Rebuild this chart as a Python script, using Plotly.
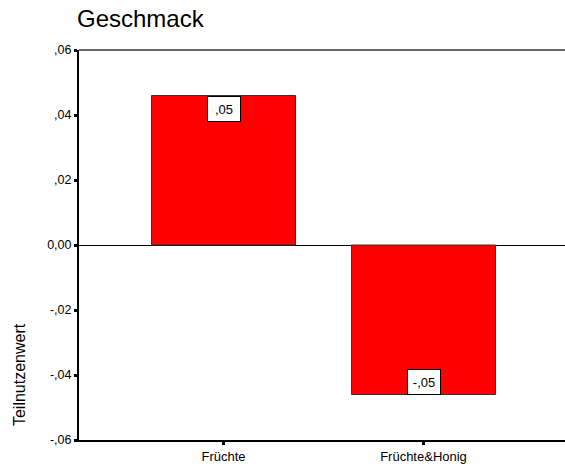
import plotly.graph_objects as go

categories = ["Früchte", "Früchte&Honig"]
values = [0.046, -0.046]
y_tickvals = [0.06, 0.04, 0.02, 0.0, -0.02, -0.04, -0.06]
y_ticktext = [",06", ",04", ",02", "0,00", "-,02", "-,04", "-,06"]
title_text = "Geschmack"
y_title = "Teilnutzenwert"


def de_label(v):
    s = f"{v:.2f}"
    if s.startswith("0."):
        s = "," + s[2:]
    elif s.startswith("-0."):
        s = "-," + s[3:]
    return s


FONT = "Liberation Sans, Arial, sans-serif"
W, H = 565, 470

fig = go.Figure()
fig.add_trace(go.Bar(
    x=categories, y=values, width=0.72,
    marker=dict(color="#ff0000", line=dict(color="#333333", width=1)),
    hoverinfo="skip",
))

for c, v in zip(categories, values):
    fig.add_annotation(
        x=c, y=v, xref="x", yref="y", text=de_label(v), showarrow=False,
        yanchor="top" if v >= 0 else "bottom", xanchor="center",
        bgcolor="white", bordercolor="black", borderwidth=1, borderpad=4,
        width=24, height=16,
        font=dict(family=FONT, size=13, color="black"),
    )

fig.add_annotation(
    text=y_title, xref="paper", yref="paper", x=-0.121, y=0.167,
    textangle=-90, showarrow=False, xanchor="center", yanchor="middle",
    font=dict(family=FONT, size=16, color="black"),
)

fig.add_shape(type="line", xref="paper", yref="paper", x0=0, x1=1, y0=1, y1=1,
              line=dict(color="#666666", width=2))

fig.update_layout(
    width=W, height=H,
    margin=dict(l=79, r=0, t=50, b=30),
    paper_bgcolor="white", plot_bgcolor="white",
    showlegend=False,
    title=dict(text=title_text, xref="container", yref="container",
               x=77 / W, xanchor="left", y=1 - 19 / H, yanchor="middle",
               font=dict(family=FONT, size=24, color="black")),
    font=dict(family=FONT, color="black"),
    xaxis=dict(
        type="category", range=[-0.7225, 1.7075],
        showline=True, linecolor="black", linewidth=2,
        ticks="outside", ticklen=3, tickwidth=3, tickcolor="black",
        showgrid=False, zeroline=False,
        tickfont=dict(family=FONT, size=13, color="black"),
    ),
    yaxis=dict(
        range=[-0.06, 0.06], tickvals=y_tickvals, ticktext=y_ticktext,
        showline=True, linecolor="black", linewidth=2,
        ticks="outside", ticklen=3, tickwidth=3, tickcolor="black",
        showgrid=False, zeroline=True, zerolinecolor="black", zerolinewidth=1,
        tickfont=dict(family=FONT, size=12.5, color="black"),
    ),
)

fig.write_html(
    "out.html",
    config={"displayModeBar": False},
    post_script="document.body.style.margin='0';document.body.style.overflow='hidden';",
)
